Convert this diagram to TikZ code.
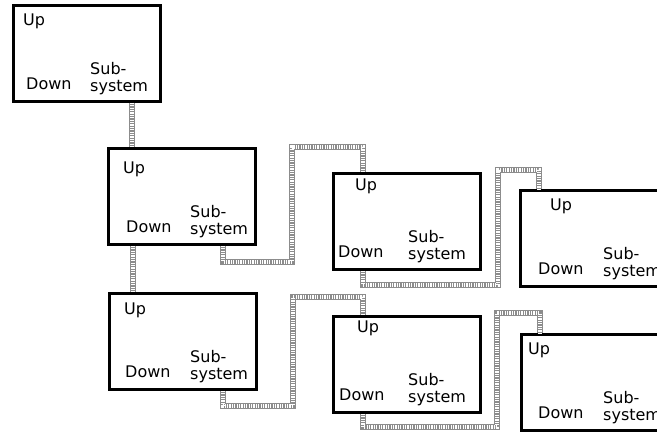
\documentclass[tikz,border=0pt]{standalone}
\usepackage{fontspec}
\usetikzlibrary{calc}
\newfontfamily\lblfont{DejaVu Sans}
\tikzset{
  sysbox/.style={draw, line width=2.8pt, inner sep=0pt,
    minimum width=147pt, minimum height=96pt},
  lbl/.style={anchor=base west, inner sep=0pt,
    font=\lblfont\fontsize{16}{19}\selectfont},
  link/.style={line width=5.5pt, draw=black!45,
    postaction={draw=white, line width=3.5pt, dash pattern=on 1.2pt off 1.2pt}}
}

\begin{document}
\begin{tikzpicture}[x=1pt, y=-1pt]

  %% name, x, y, Up dx, Up base, Down dx, Sub dx
  \newcommand\subsys[7]{%
    \node[sysbox, anchor=north west] (#1) at (#2,#3) {};
    \node[lbl] (#1up) at ([xshift=#4pt, yshift=-#5pt]#1.north west) {Up};
    \node[lbl] (#1dn) at ([xshift=#6pt, yshift=-85pt]#1.north west) {Down};
    \node[lbl] (#1sub) at ([xshift=#7pt, yshift=-70pt]#1.north west) {Sub-};
    \node[lbl] (#1sys) at ([xshift=#7pt, yshift=-87pt]#1.north west) {system};
  }

  \useasboundingbox (0,0) rectangle (657,432);
  \clip (0,0) rectangle (657,432);

  \subsys{b1}{12}{4}{11}{21}{14}{78}
  \subsys{b2}{107}{147}{16}{26}{19}{83}
  \subsys{b3}{108}{292}{16}{22}{17}{82}
  \subsys{b4}{332}{172}{23}{18}{6}{76}
  \subsys{b5}{332}{315}{25}{17}{7}{76}
  \subsys{b6}{519}{189}{31}{21}{19}{84}
  \subsys{b7}{520}{333}{8}{21}{18}{83}

  %% links
  \draw[link] ([xshift=120pt]b1.south west) -- ([xshift=25pt]b2.north west);
  \draw[link] ([xshift=26pt]b2.south west) -- ([xshift=25pt]b3.north west);
  \draw[link] ([xshift=116pt]b2.south west) |- (292,262) |- (363,147)
    -- ([xshift=31pt]b4.north west);
  \draw[link] ([xshift=31pt]b4.south west) |- (498,285) |- (539,170)
    -- ([xshift=20pt]b6.north west);
  \draw[link] ([xshift=115pt]b3.south west) |- (293,406) |- (363,297)
    -- ([xshift=31pt]b5.north west);
  \draw[link] ([xshift=31pt]b5.south west) |- (497,427) |- (540,313)
    -- ([xshift=20pt]b7.north west);

\end{tikzpicture}
\end{document}
